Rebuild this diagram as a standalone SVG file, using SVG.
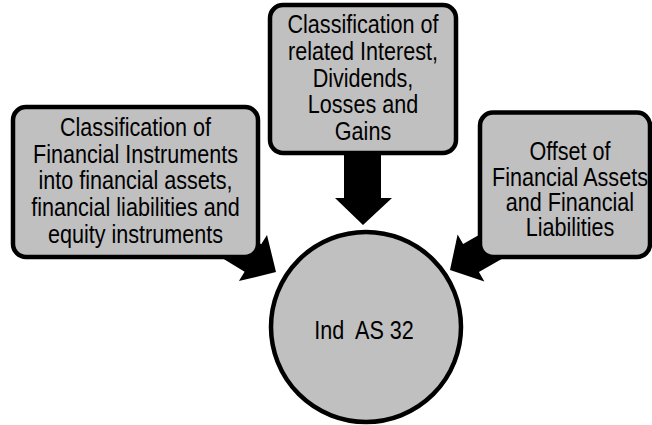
<svg xmlns="http://www.w3.org/2000/svg" width="652" height="425" viewBox="0 0 652 425">
<style>
.box{fill:#c0c0c0;stroke:#000;stroke-width:4.5}
.arr{fill:#000;stroke:none}
text{font-family:"Liberation Sans",Arial,sans-serif;font-size:26px;fill:#000;text-anchor:middle;white-space:pre}
</style>
<rect width="652" height="425" fill="#fff"/>
<g id="connectors">
<polygon class="arr" points="201.9,245.7 244.6,271.7 238.9,281.1 276,272 267.0,234.9 261.2,244.3 218.5,218.3"/>
<polygon class="arr" points="344,150 344,198 335,198 363,225 392,198 381,198 381,150"/>
<polygon class="arr" points="522.3,247.1 478.9,271.9 484.4,281.4 450,270 457.6,234.6 463.1,244.1 506.5,219.3"/>
</g>
<g id="node-instruments">
<rect class="box" x="13" y="107" width="245" height="150" rx="13"/>
<g transform="translate(135.5,0) scale(0.83,1)">
<text x="0" y="136">Classification of</text>
<text x="0" y="163">Financial Instruments</text>
<text x="0" y="189">into financial assets,</text>
<text x="0" y="216">financial liabilities and</text>
<text x="0" y="243">equity instruments</text>
</g>
</g>
<g id="node-interest">
<rect class="box" x="270" y="5" width="186" height="148" rx="13"/>
<g transform="translate(363,0) scale(0.83,1)">
<text x="0" y="33">Classification of</text>
<text x="0" y="60">related Interest,</text>
<text x="0" y="87">Dividends,</text>
<text x="0" y="113">Losses and</text>
<text x="0" y="140">Gains</text>
</g>
</g>
<g id="node-offset">
<rect class="box" x="480" y="112.5" width="170" height="144.5" rx="13"/>
<g transform="translate(570,0) scale(0.83,1)">
<text x="0" y="160">Offset of</text>
<text x="0" y="186">Financial Assets</text>
<text x="0" y="211">and Financial</text>
<text x="0" y="236">Liabilities</text>
</g>
</g>
<g id="node-indas32">
<circle class="box" cx="366" cy="327" r="95"/>
<g transform="translate(364,0) scale(0.83,1)">
<text x="0" y="339">Ind  AS 32</text>
</g>
</g>
</svg>
